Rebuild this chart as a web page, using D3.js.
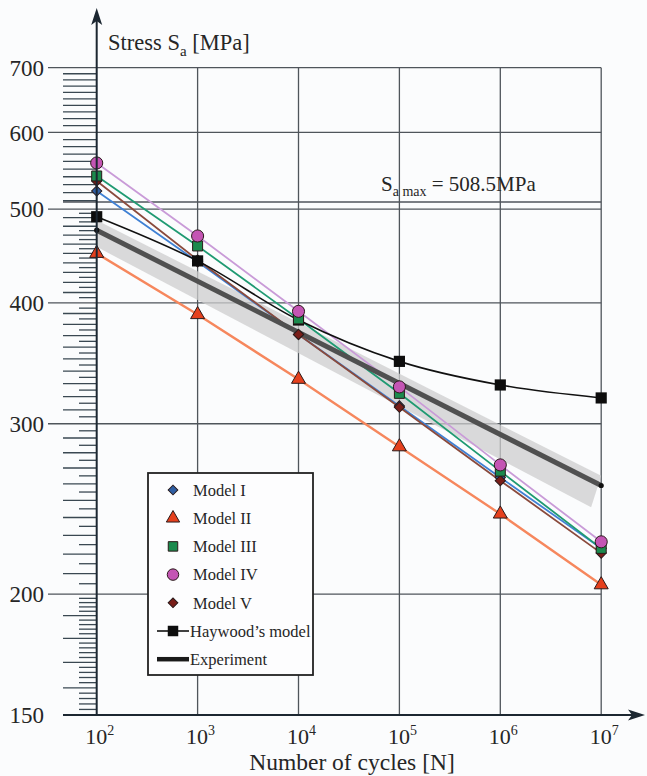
<!DOCTYPE html>
<html>
<head>
<meta charset="utf-8">
<script src="https://cdn.jsdelivr.net/npm/d3@7"></script>
<style>
  body { margin: 0; background: #fbfcfd; }
  svg { display: block; }
  text { font-family: "Liberation Serif", "Times New Roman", serif; fill: #262626; }
</style>
</head>
<body>
<svg id="chart" width="647" height="776"></svg>
<script>
// Fatigue (S-N) curves: stress amplitude vs number of cycles, log-log
const cycles    = [1e2, 1e3, 1e4, 1e5, 1e6, 1e7];
const modelI    = [522, 441, 371, 313, 264, 223];
const modelII   = [450, 389, 333.5, 284, 242, 204.5];
const modelIII  = [541, 458, 385, 322.5, 268, 223];
const modelIV   = [558, 469, 392, 327.5, 272, 226.5];
const modelV    = [534.5, 443, 371, 312, 262, 220.5];
const haywood   = [491, 442, 384, 348, 329, 319];
const experimentN = [1e2, 1e7];
const experiment  = [475.5, 259];
// scatter band around the experimental curve
const bandN = [1e2, 1e7, Math.pow(10, 6.9), 1e2];
const bandS = [487, 265, 246, 457];
const stressTicks = [150, 200, 300, 400, 500, 600, 700];
const cycleExponents = [2, 3, 4, 5, 6, 7];
const stressMax = 508.5;

const svg = d3.select("#chart");
const X0 = 96.7, X1 = 601.2, Y0 = 715, Y1 = 67.7;
const x = d3.scaleLog().domain([1e2, 1e7]).range([X0, X1]);
const y = d3.scaleLog().domain([150, 700]).range([Y0, Y1]);

const gridColor = "#4f555b";
const g = svg.append("g");

// minor tick comb left of the stress axis
const minor = [];
for (let v = 152; v < 200; v += 2) minor.push({v, long: v % 10 === 0});
for (let v = 205; v < 500; v += 5) if (v % 100) minor.push({v, long: v % 10 === 0});
for (let v = 510; v < 700; v += 10) if (v % 100) minor.push({v, long: true});
g.selectAll(".minor").data(minor).join("line")
  .attr("x1", d => d.long ? 63 : 79).attr("x2", X0)
  .attr("y1", d => y(d.v)).attr("y2", d => y(d.v))
  .attr("stroke", "#3a4852").attr("stroke-width", 1.3);

// horizontal grid
g.selectAll(".hgrid").data(stressTicks.filter(v => v > 150)).join("line")
  .attr("x1", 48).attr("x2", X1)
  .attr("y1", d => y(d)).attr("y2", d => y(d))
  .attr("stroke", gridColor).attr("stroke-width", 1.3);

// vertical grid
g.selectAll(".vgrid").data(cycleExponents.slice(1)).join("line")
  .attr("x1", d => x(Math.pow(10, d))).attr("x2", d => x(Math.pow(10, d)))
  .attr("y1", Y1).attr("y2", Y0)
  .attr("stroke", gridColor).attr("stroke-width", 1.3);

// maximum stress amplitude line
g.append("line").attr("x1", 63).attr("x2", X1)
  .attr("y1", y(stressMax)).attr("y2", y(stressMax))
  .attr("stroke", gridColor).attr("stroke-width", 1.3);

// stress tick labels
g.selectAll(".ylab").data(stressTicks).join("text")
  .attr("x", 44).attr("y", d => y(d)).attr("dy", "0.35em")
  .attr("text-anchor", "end").attr("font-size", 23)
  .text(d => d);

// cycle tick labels 10^n
const xl = g.selectAll(".xlab").data(cycleExponents).join("text")
  .attr("x", d => x(Math.pow(10, d)) + 3).attr("y", 744)
  .attr("text-anchor", "middle").attr("font-size", 22);
xl.append("tspan").text("10");
xl.append("tspan").attr("font-size", 14).attr("dy", -9).text(d => d);

// axis titles
svg.append("text").attr("x", 352).attr("y", 770).attr("text-anchor", "middle")
  .attr("font-size", 23.5).text("Number of cycles [N]");
const yt = svg.append("text").attr("x", 108).attr("y", 50).attr("font-size", 22.5);
yt.append("tspan").text("Stress S");
yt.append("tspan").attr("font-size", 15).attr("dy", 6).text("a");
yt.append("tspan").attr("dy", -6).text(" [MPa]");

const st = svg.append("text").attr("x", 381).attr("y", 191).attr("font-size", 21);
st.append("tspan").text("S");
st.append("tspan").attr("font-size", 14).attr("dy", 5).text("a max");
st.append("tspan").attr("dy", -5).text(" = " + stressMax + "MPa");

// scatter band
svg.append("path")
  .attr("d", d3.line().x((d, i) => x(bandN[i])).y(d => y(d))(bandS) + "Z")
  .attr("fill", "#cdcdcd").attr("opacity", 0.75);

const series = [
  {name: "Model II",  vals: modelII,  line: "#f6875d", fill: "#e5401d", sym: d3.symbolTriangle, size: 85, w: 2.4},
  {name: "Model I",   vals: modelI,   line: "#3f80d4", fill: "#2f5ea3", rot: true, w: 1.8},
  {name: "Model V",   vals: modelV,   line: "#8a4a3c", fill: "#7a1e19", rot: true, w: 1.8},
  {name: "Model III", vals: modelIII, line: "#1f9a72", fill: "#1b8a4d", sym: d3.symbolSquare,   size: 100, w: 1.8},
  {name: "Model IV",  vals: modelIV,  line: "#c99bd8", fill: "#c455b4", sym: d3.symbolCircle,   size: 115, w: 1.8}
];
// diamonds are squares turned by 45 degrees
const shape = (s, k) => s.rot ? d3.symbol().type(d3.symbolSquare).size(52 * k)() : d3.symbol().type(s.sym).size(s.size * k)();
const lineGen = d3.line().x((d, i) => x(cycles[i])).y(d => y(d));

series.forEach(s => {
  svg.append("path").attr("d", lineGen(s.vals)).attr("fill", "none")
    .attr("stroke", s.line).attr("stroke-width", s.w);
});

// Haywood's model
svg.append("path").attr("d", d3.line().curve(d3.curveMonotoneX)
    .x((d, i) => x(cycles[i])).y(d => y(d))(haywood))
  .attr("fill", "none").attr("stroke", "#111").attr("stroke-width", 1.6);

// experimental curve
svg.append("path")
  .attr("d", d3.line().x((d, i) => x(experimentN[i])).y(d => y(d))(experiment))
  .attr("fill", "none").attr("stroke", "#505050").attr("stroke-width", 5);
svg.selectAll(".expDot").data(experiment).join("circle")
  .attr("cx", (d, i) => x(experimentN[i])).attr("cy", d => y(d)).attr("r", 2.6)
  .attr("fill", "#111");

// markers
function drawMarkers(s) {
  svg.selectAll(null).data(s.vals).join("path")
    .attr("transform", (d, i) => `translate(${x(cycles[i])},${y(d)})` + (s.rot ? " rotate(45)" : ""))
    .attr("d", shape(s, 1))
    .attr("fill", s.fill).attr("stroke", "#2a1a1a").attr("stroke-width", 1);
}
series.slice(0, 3).forEach(drawMarkers);
svg.selectAll(".hw").data(haywood).join("path")
  .attr("transform", (d, i) => `translate(${x(cycles[i])},${y(d)})`)
  .attr("d", d3.symbol().type(d3.symbolSquare).size(125)())
  .attr("fill", "#0d0d0d");
series.slice(3).forEach(drawMarkers);

// axes with arrows
const axisColor = "#1c2731";
svg.append("line").attr("x1", X0).attr("x2", X0).attr("y1", Y0).attr("y2", 14)
  .attr("stroke", axisColor).attr("stroke-width", 2);
svg.append("line").attr("x1", 63).attr("x2", 638).attr("y1", Y0).attr("y2", Y0)
  .attr("stroke", axisColor).attr("stroke-width", 2);
svg.append("path").attr("d", `M${X0},8 L${X0 + 5.5},25 L${X0},21 L${X0 - 5.5},25 Z`).attr("fill", axisColor);
svg.append("path").attr("d", `M645,${Y0} L628,${Y0 - 5.5} L632,${Y0} L628,${Y0 + 5.5} Z`).attr("fill", axisColor);

// legend
const legendOrder = ["Model I", "Model II", "Model III", "Model IV", "Model V"];
const lg = svg.append("g");
lg.append("rect").attr("x", 148).attr("y", 473).attr("width", 165).attr("height", 202)
  .attr("fill", "#fdfdfe").attr("stroke", "#222").attr("stroke-width", 1.8);
legendOrder.forEach((name, i) => {
  const s = series.find(d => d.name === name);
  const cy = 490 + i * 28.2;
  lg.append("path").attr("transform", `translate(173,${cy})` + (s.rot ? " rotate(45)" : ""))
    .attr("d", shape(s, 0.9))
    .attr("fill", s.fill).attr("stroke", "#2a1a1a").attr("stroke-width", 1);
  lg.append("text").attr("x", 193).attr("y", cy).attr("dy", "0.35em")
    .attr("font-size", 16.5).text(name);
});
const hy = 490 + 5 * 28.2, ey = 490 + 6 * 28.2;
lg.append("line").attr("x1", 157).attr("x2", 189).attr("y1", hy).attr("y2", hy)
  .attr("stroke", "#111").attr("stroke-width", 1.6);
lg.append("path").attr("transform", `translate(173,${hy})`)
  .attr("d", d3.symbol().type(d3.symbolSquare).size(110)()).attr("fill", "#0d0d0d");
lg.append("text").attr("x", 190).attr("y", hy).attr("dy", "0.35em").attr("font-size", 16.5).text("Haywood\u2019s model");
lg.append("line").attr("x1", 157).attr("x2", 189).attr("y1", ey).attr("y2", ey)
  .attr("stroke", "#1a1a1a").attr("stroke-width", 4.5);
lg.append("text").attr("x", 190).attr("y", ey).attr("dy", "0.35em").attr("font-size", 16.5).text("Experiment");
</script>
</body>
</html>
